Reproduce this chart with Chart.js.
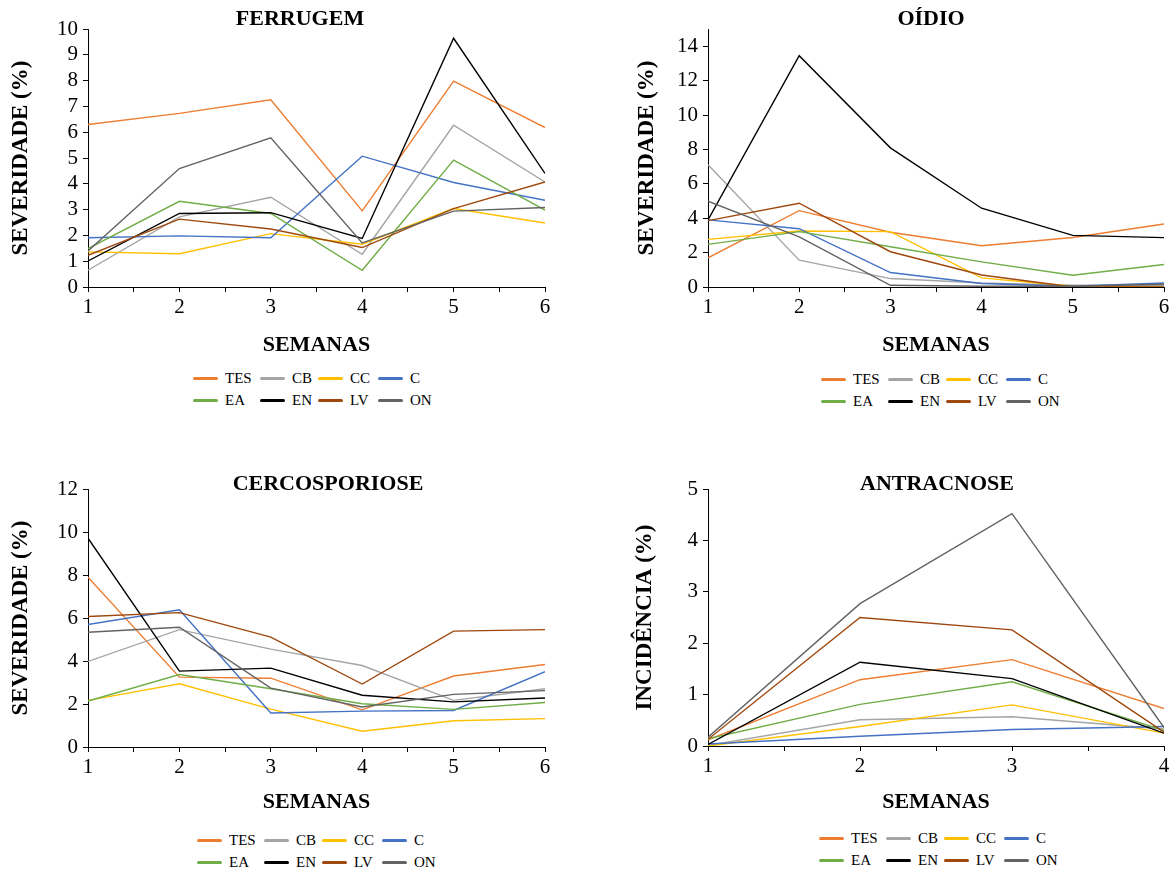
<!DOCTYPE html>
<html>
<head>
<meta charset="utf-8">
<script src="https://cdn.jsdelivr.net/npm/chart.js@4.4.1/dist/chart.umd.min.js"></script>
<style>
html, body { margin: 0; padding: 0; background: #fff; }
body { width: 1174px; height: 870px; position: relative; overflow: hidden; font-family: "Liberation Serif", "Times New Roman", serif; }
.panel { position: absolute; }
.panel canvas { display: block; }
.legend { position: absolute; display: grid; grid-template-columns: 67px 58px 60px auto; font-size: 15px; color: #000; }
.item { display: flex; align-items: center; height: 22.5px; white-space: nowrap; }
.sw { width: 25px; height: 3px; border-radius: 1.5px; margin-right: 7px; flex: none; }
</style>
</head>
<body>
<div class="panel" style="left:0px;top:0px;"><canvas id="c1" width="560" height="359"></canvas></div>
<div class="panel" style="left:600px;top:0px;"><canvas id="c2" width="574" height="359"></canvas></div>
<div class="panel" style="left:0px;top:460px;"><canvas id="c3" width="560" height="356"></canvas></div>
<div class="panel" style="left:600px;top:460px;"><canvas id="c4" width="574" height="356"></canvas></div>
<div class="legend" id="lg1" style="left:193px;top:367px;"></div>
<div class="legend" id="lg2" style="left:821px;top:368px;"></div>
<div class="legend" id="lg3" style="left:197px;top:829px;"></div>
<div class="legend" id="lg4" style="left:819px;top:827px;"></div>
<script>
// ---- data ----
const seriesNames = ['TES', 'CB', 'CC', 'C', 'EA', 'EN', 'LV', 'ON'];
const seriesColors = ['#ED7D31', '#A5A5A5', '#FFC000', '#4472C4', '#70AD47', '#000000', '#9E480E', '#636363'];
const weeks6 = [1, 2, 3, 4, 5, 6];
const weeks4 = [1, 2, 3, 4];
const weekLabels = ['1', '2', '3', '4', '5', '6'];

// rows in the order of seriesNames
const ferrugemValues = [
  [6.30, 6.73, 7.26, 2.95, 7.98, 6.18],
  [0.65, 2.72, 3.48, 1.27, 6.27, 4.07],
  [1.36, 1.29, 2.07, 1.66, 3.04, 2.48],
  [1.91, 1.98, 1.91, 5.07, 4.05, 3.36],
  [1.49, 3.32, 2.85, 0.65, 4.92, 2.98],
  [1.01, 2.85, 2.88, 1.88, 9.64, 4.40],
  [1.23, 2.63, 2.25, 1.53, 3.04, 4.07],
  [1.40, 4.59, 5.78, 1.71, 2.94, 3.08]
];
const oidioValues = [
  [1.70, 4.44, 3.18, 2.40, 2.88, 3.66],
  [7.11, 1.56, 0.49, 0.23, 0.10, 0.10],
  [2.77, 3.26, 3.22, 0.53, 0.04, 0.00],
  [3.90, 3.39, 0.84, 0.20, 0.04, 0.23],
  [2.48, 3.22, 2.34, 1.46, 0.68, 1.31],
  [3.90, 13.45, 8.09, 4.58, 3.00, 2.87],
  [3.86, 4.87, 2.05, 0.70, 0.00, 0.00],
  [4.99, 2.92, 0.10, 0.04, 0.04, 0.16]
];
const cercosporioseValues = [
  [7.90, 3.25, 3.20, 1.73, 3.30, 3.84],
  [3.98, 5.46, 4.55, 3.79, 2.17, 2.71],
  [2.17, 2.94, 1.76, 0.73, 1.22, 1.32],
  [5.70, 6.38, 1.58, 1.67, 1.70, 3.50],
  [2.14, 3.37, 2.71, 2.01, 1.75, 2.07],
  [9.71, 3.53, 3.67, 2.41, 2.10, 2.28],
  [6.07, 6.25, 5.11, 2.93, 5.39, 5.46],
  [5.34, 5.57, 2.74, 1.86, 2.45, 2.62]
];
const antracnoseValues = [
  [0.12, 1.29, 1.68, 0.73],
  [0.01, 0.51, 0.57, 0.33],
  [0.00, 0.38, 0.80, 0.25],
  [0.04, 0.19, 0.32, 0.38],
  [0.14, 0.81, 1.25, 0.30],
  [0.03, 1.63, 1.31, 0.25],
  [0.13, 2.50, 2.26, 0.27],
  [0.17, 2.77, 4.52, 0.36]
];

// ---- drawing ----
const serif = '"Liberation Serif", "Times New Roman", serif';

const titleCenter = {
  id: 'titleCenter',
  afterLayout(chart, args, opts) {
    const t = chart.titleBlock;
    if (t && opts && opts.cx != null) {
      const w = t.right - t.left;
      t.left = opts.cx - w / 2;
      t.right = opts.cx + w / 2;
    }
  }
};

function axisStyle() {
  return {
    grid: { display: true, drawOnChartArea: false, drawTicks: true, tickLength: 5, color: '#000', lineWidth: 1 },
    border: { display: true, color: '#000', width: 1 }
  };
}

function makeChart(id, geom, weeks, values, text) {
  const el = document.getElementById(id);
  return new Chart(el, {
    type: 'line',
    data: {
      datasets: values.map((vals, i) => ({
        label: seriesNames[i],
        data: vals.map((v, j) => ({ x: weeks[j], y: v })),
        borderColor: seriesColors[i],
        backgroundColor: seriesColors[i],
        borderWidth: 1.4,
        pointRadius: 0,
        pointHoverRadius: 0,
        tension: 0,
        fill: false,
        order: values.length - i
      }))
    },
    options: {
      responsive: false,
      animation: false,
      devicePixelRatio: 1,
      events: [],
      layout: { padding: { left: 0, right: geom.padRight, top: 0, bottom: 0 } },
      plugins: {
        legend: { display: false },
        tooltip: { enabled: false },
        title: {
          display: true, text: text.title, fullSize: false, color: '#000',
          font: { family: serif, size: 22, weight: 'bold', lineHeight: 1 },
          padding: { top: geom.titleTop, bottom: geom.titleBottom }
        },
        titleCenter: { cx: geom.titleCx }
      },
      scales: {
        x: Object.assign({
          type: 'linear', min: weeks[0], max: weeks[weeks.length - 1],
          afterFit: s => { s.height = geom.xAxisH; },
          ticks: {
            stepSize: 0.5, autoSkip: false, maxRotation: 0, minRotation: 0, color: '#000', padding: 3,
            font: { family: serif, size: 21 },
            callback: v => Number.isInteger(v) ? weekLabels[v - 1] : ''
          },
          title: {
            display: true, text: 'SEMANAS', color: '#000',
            font: { family: serif, size: 22, weight: 'bold' },
            padding: { top: 0, bottom: 0 }
          }
        }, axisStyle()),
        y: Object.assign({
          type: 'linear', min: 0, max: geom.yMax,
          afterFit: s => { s.width = geom.yAxisW; },
          ticks: {
            stepSize: geom.yStep, includeBounds: false, autoSkip: false, color: '#000', padding: 5,
            font: { family: serif, size: 21 }
          },
          title: {
            display: true, text: text.yTitle, color: '#000',
            font: { family: serif, size: 23, weight: 'bold' },
            padding: { top: geom.yTitlePad, bottom: 0 }
          }
        }, axisStyle())
      }
    },
    plugins: [titleCenter]
  });
}

function makeLegend(id) {
  const box = document.getElementById(id);
  seriesNames.forEach((name, i) => {
    const item = document.createElement('div');
    item.className = 'item';
    const sw = document.createElement('span');
    sw.className = 'sw';
    sw.style.background = seriesColors[i];
    const tx = document.createElement('span');
    tx.textContent = name;
    item.appendChild(sw);
    item.appendChild(tx);
    box.appendChild(item);
  });
}

makeChart('c1',
  { padRight: 15, yAxisW: 88, xAxisH: 72, titleTop: 8, titleBottom: -1, titleCx: 300, yMax: 10, yStep: 1, yTitlePad: 7 },
  weeks6, ferrugemValues, { title: 'FERRUGEM', yTitle: 'SEVERIDADE (%)' });
makeChart('c2',
  { padRight: 10, yAxisW: 108, xAxisH: 72, titleTop: 8, titleBottom: -1, titleCx: 331, yMax: 15, yStep: 2, yTitlePad: 33 },
  weeks6, oidioValues, { title: 'OÍDIO', yTitle: 'SEVERIDADE (%)' });
makeChart('c3',
  { padRight: 15, yAxisW: 88, xAxisH: 69, titleTop: 13, titleBottom: -6, titleCx: 328, yMax: 12, yStep: 2, yTitlePad: 7 },
  weeks6, cercosporioseValues, { title: 'CERCOSPORIOSE', yTitle: 'SEVERIDADE (%)' });
makeChart('c4',
  { padRight: 10, yAxisW: 108, xAxisH: 70, titleTop: 13, titleBottom: -6, titleCx: 337, yMax: 5, yStep: 1, yTitlePad: 31 },
  weeks4, antracnoseValues, { title: 'ANTRACNOSE', yTitle: 'INCIDÊNCIA (%)' });

['lg1', 'lg2', 'lg3', 'lg4'].forEach(makeLegend);
</script>
</body>
</html>
